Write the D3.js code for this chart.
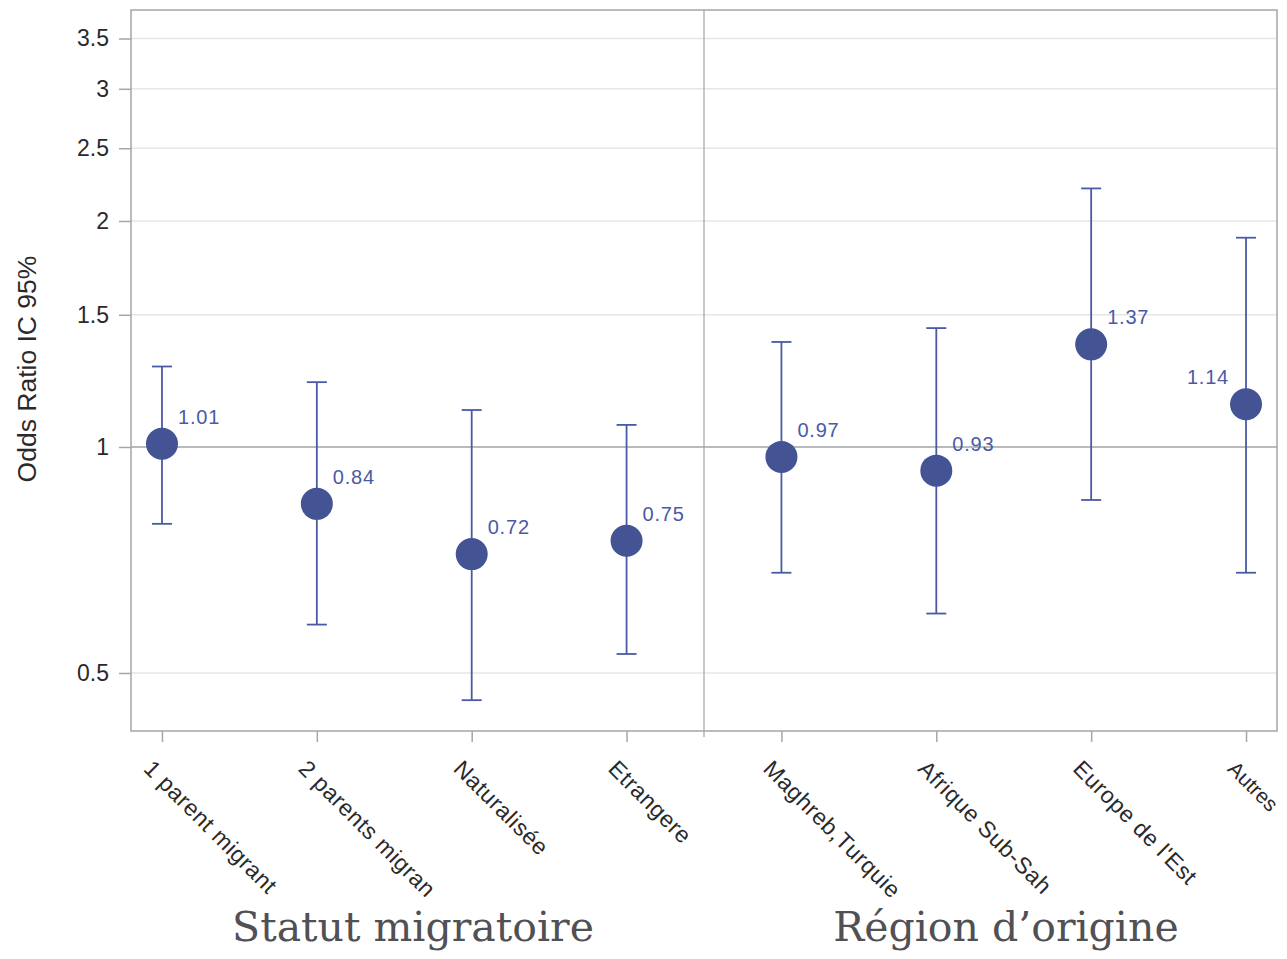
<!DOCTYPE html>
<html><head><meta charset="utf-8">
<script src="https://cdn.jsdelivr.net/npm/d3@7"></script>
<style>body{margin:0;background:#fff}</style>
</head><body><svg id="c" width="1287" height="959"></svg>
<script>
const categories = ["1 parent migrant","2 parents migran","Naturalisée","Etrangere","Maghreb,Turquie","Afrique Sub-Sah","Europe de l'Est","Autres"];
const oddsRatio = [1.01,0.84,0.72,0.75,0.97,0.93,1.37,1.14];
const ciLower = [0.79,0.58,0.46,0.53,0.68,0.60,0.85,0.68];
const ciUpper = [1.28,1.22,1.12,1.07,1.38,1.44,2.21,1.90];
const yTicks = [0.5,1,1.5,2,2.5,3,3.5];
const groupLabels = ["Statut migratoire","Région d’origine"];

const svg = d3.select("#c");
const L=131,R=1277,T=10,B=731;
const x = d3.scalePoint().domain(categories).range([L,R]).padding(0.2);
const y = d3.scaleLog().domain([0.4185,3.82]).range([B,T]);
const grid="#e6e6e6", axisC="#a3a7ab", blue="#4a5aa5", dot="#435394";
const sans="Liberation Sans, Arial, sans-serif";

// gridlines
svg.append("g").selectAll("line").data(yTicks.filter(d=>d!==1)).join("line")
 .attr("x1",L).attr("x2",R).attr("y1",d=>y(d)).attr("y2",d=>y(d))
 .attr("stroke",grid).attr("stroke-width",1.5);
// reference line at 1
svg.append("line").attr("x1",L).attr("x2",R).attr("y1",y(1)).attr("y2",y(1))
 .attr("stroke","#a0a4a8").attr("stroke-width",1.5);
// separator
const sep=(x(categories[3])+x(categories[4]))/2;
svg.append("line").attr("x1",sep).attr("x2",sep).attr("y1",T).attr("y2",B+6)
 .attr("stroke","#a0a4a8").attr("stroke-width",1.2);

// frame
svg.append("rect").attr("x",L).attr("y",T).attr("width",R-L).attr("height",B-T)
 .attr("fill","none").attr("stroke",axisC).attr("stroke-width",1.5);

// y axis
const ya = svg.append("g").attr("transform",`translate(${L},0)`)
 .call(d3.axisLeft(y).tickValues(yTicks).tickFormat(d3.format("")).tickSize(12).tickPadding(10));
ya.select(".domain").remove();
ya.selectAll("line").attr("stroke",axisC).attr("stroke-width",1.5);
ya.selectAll("text").attr("font-family",sans).attr("font-size",23).attr("fill","#2a2a2a");

// x axis
const xa = svg.append("g").attr("transform",`translate(0,${B})`)
 .call(d3.axisBottom(x).tickSize(11).tickPadding(0));
xa.select(".domain").remove();
xa.selectAll("line").attr("stroke",axisC).attr("stroke-width",1.5);
xa.selectAll("text").attr("font-family",sans)
 .attr("font-size",(d,i)=> i===categories.length-1 ? 21 : 23)
 .attr("letter-spacing",(d,i)=> i===categories.length-1 ? 0 : 0.6).attr("fill","#2a2a2a")
 .attr("text-anchor","start").attr("dy",0).attr("y",0)
 .attr("transform","translate(-20,39) rotate(45)");

// y title
svg.append("text").attr("transform",`translate(36,369) rotate(-90)`)
 .attr("text-anchor","middle").attr("font-family",sans)
 .attr("font-size",26.5).attr("fill","#2a2a2a").text("Odds Ratio IC 95%");

// error bars
const g = svg.append("g");
const idx = d3.range(categories.length);
g.selectAll(".v").data(idx).join("line")
 .attr("x1",i=>x(categories[i])).attr("x2",i=>x(categories[i]))
 .attr("y1",i=>y(ciLower[i])).attr("y2",i=>y(ciUpper[i]))
 .attr("stroke",blue).attr("stroke-width",1.8);
[ciLower,ciUpper].forEach(arr=>{
 g.selectAll(null).data(idx).join("line")
  .attr("x1",i=>x(categories[i])-10).attr("x2",i=>x(categories[i])+10)
  .attr("y1",i=>y(arr[i])).attr("y2",i=>y(arr[i]))
  .attr("stroke",blue).attr("stroke-width",1.8);
});
g.selectAll("circle").data(idx).join("circle")
 .attr("cx",i=>x(categories[i])).attr("cy",i=>y(oddsRatio[i])).attr("r",16)
 .attr("fill",dot);
g.selectAll(".lab").data(idx).join("text")
 .attr("x",i=> i===categories.length-1 ? x(categories[i])-17 : x(categories[i])+16)
 .attr("y",i=>y(oddsRatio[i])-20)
 .attr("text-anchor",i=> i===categories.length-1 ? "end":"start")
 .attr("font-family",sans).attr("font-size",20).attr("letter-spacing",0.8)
 .attr("fill","#4a5aa5").text(i=>oddsRatio[i].toFixed(2));

// group labels
const gx=[413,1006];
svg.selectAll(".grp").data(groupLabels).join("text")
 .attr("x",(d,i)=>gx[i]).attr("y",941).attr("text-anchor","middle")
 .attr("font-family","DejaVu Serif, serif").attr("font-size",41).attr("fill","#505055")
 .text(d=>d);
</script></body></html>
